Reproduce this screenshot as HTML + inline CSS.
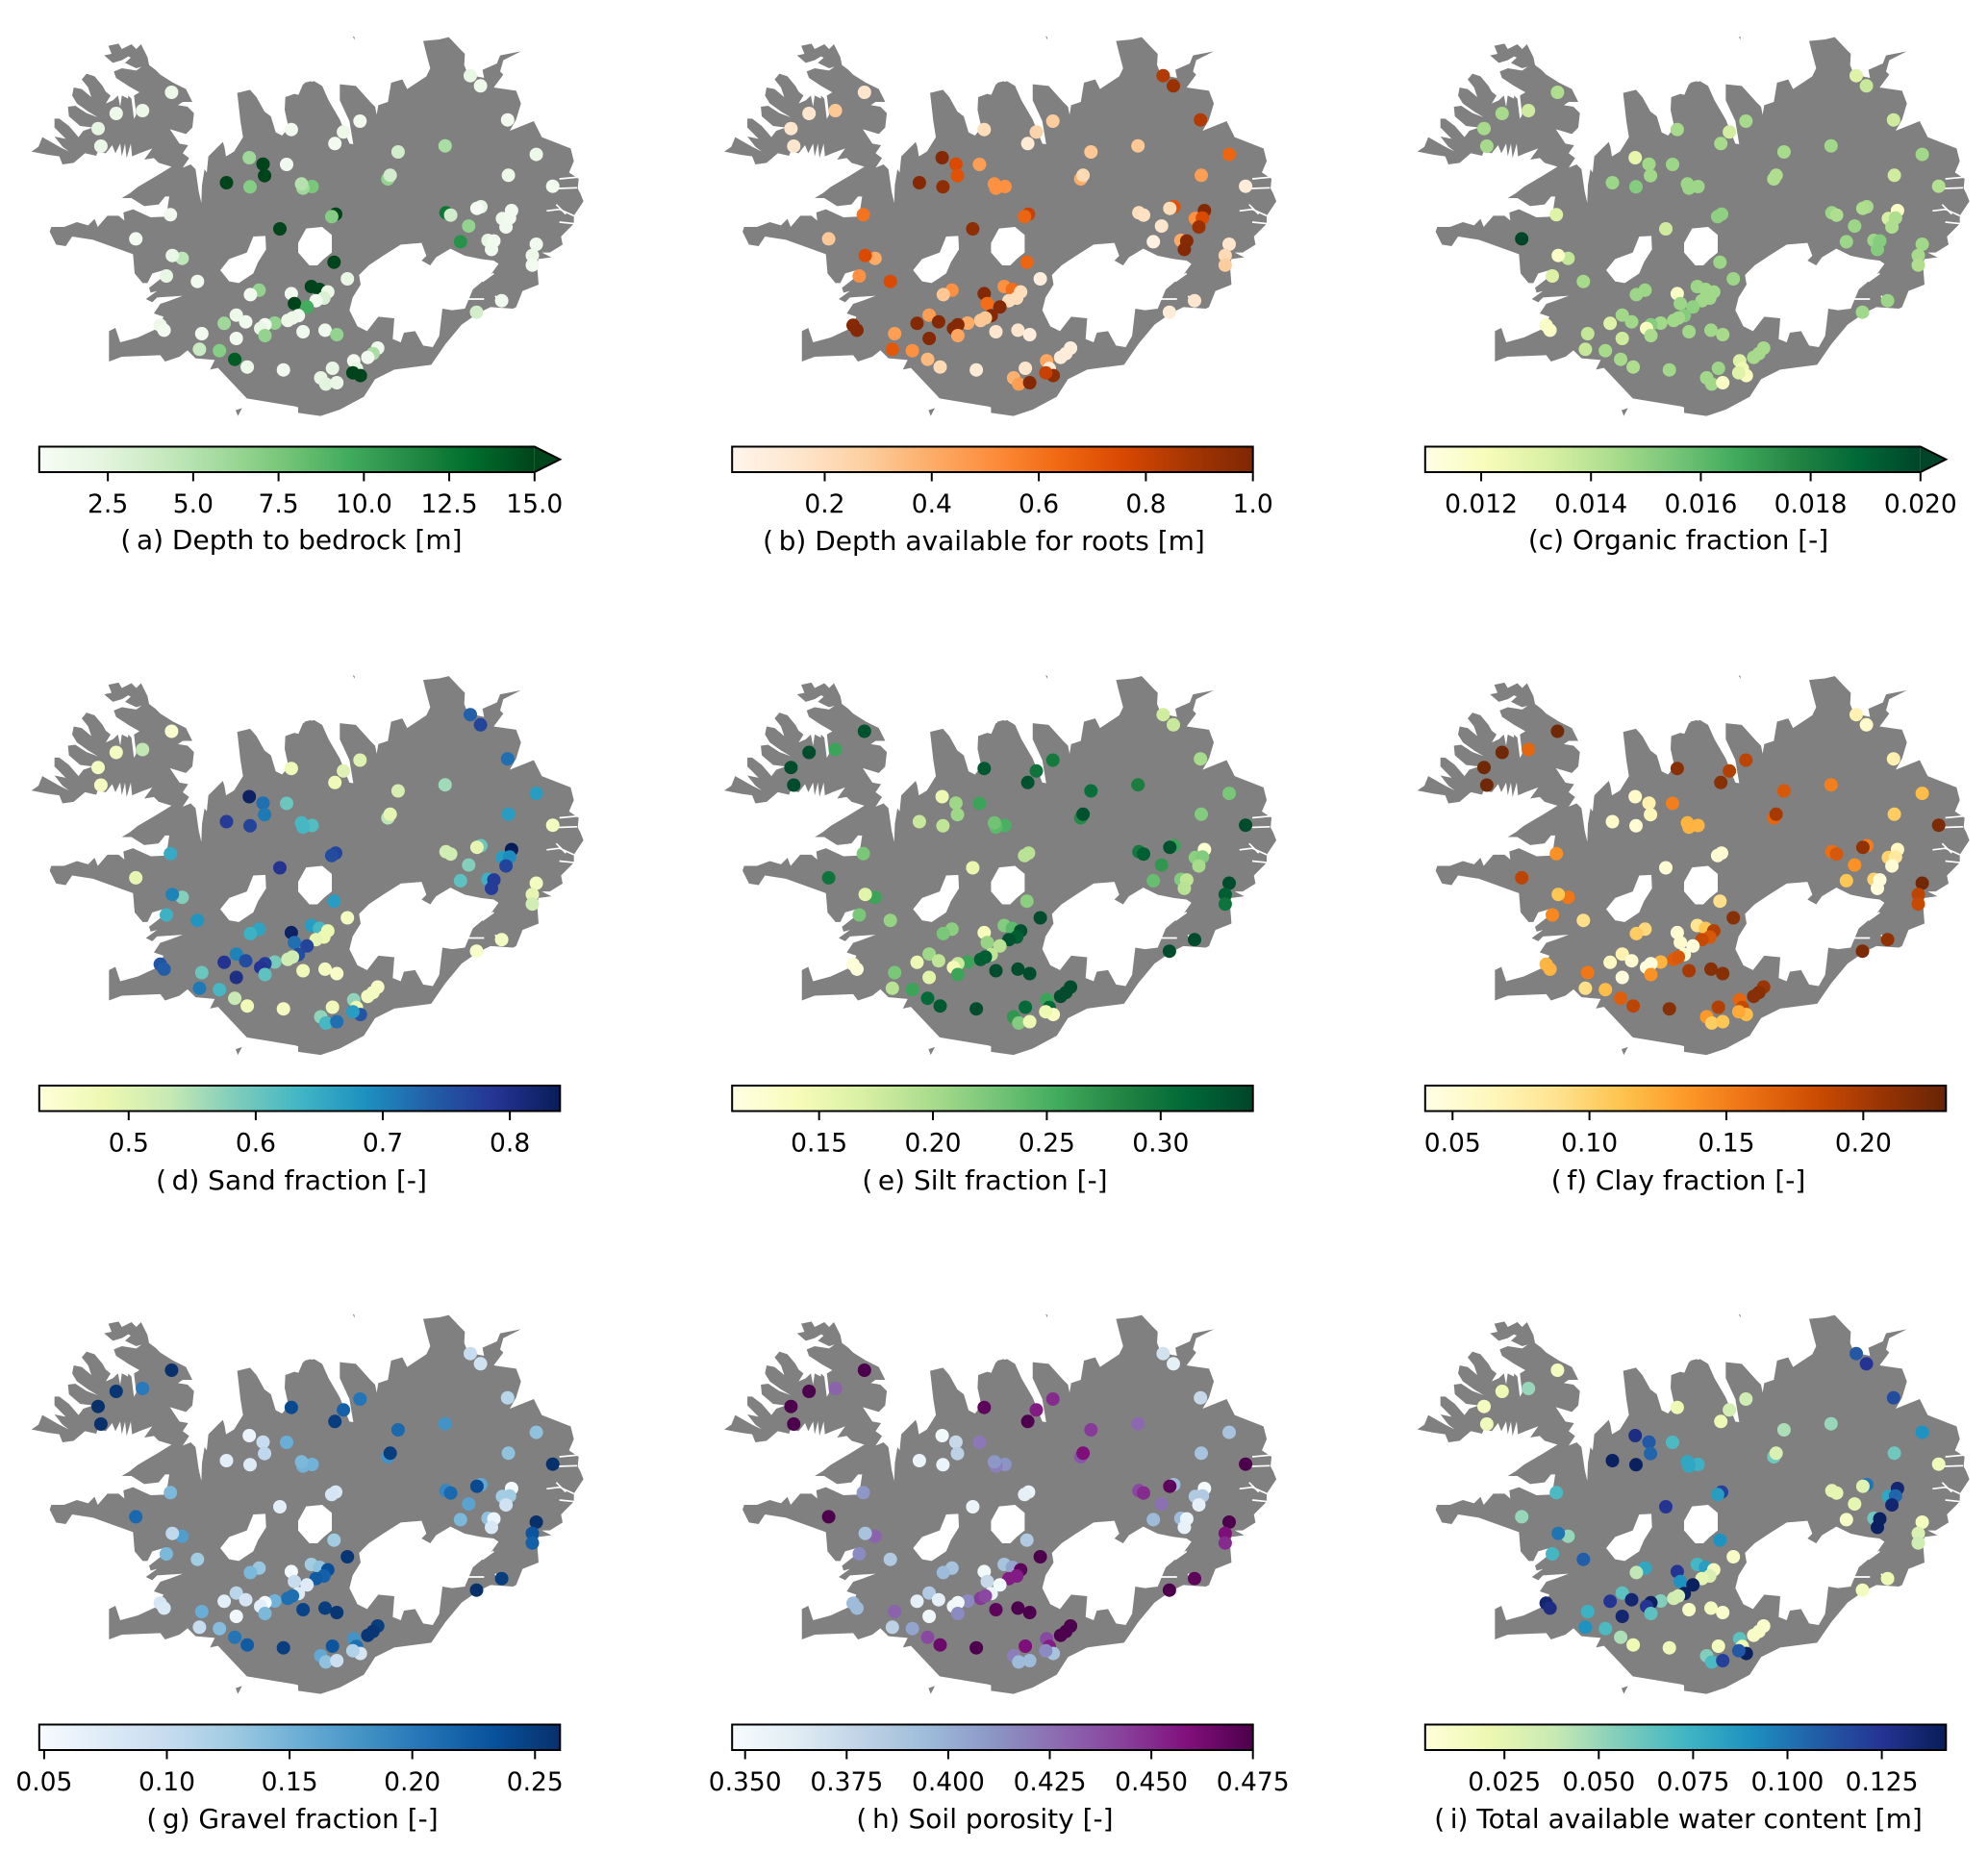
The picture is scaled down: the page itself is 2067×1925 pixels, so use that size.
<!DOCTYPE html>
<html lang="en">
<head>
<meta charset="utf-8">
<title>Iceland soil properties maps</title>
<style>
html,body{margin:0;padding:0;background:#fff}
svg{display:block}
text{font-family:"DejaVu Sans","Liberation Sans",sans-serif;font-size:26.5px;fill:#000}
text.cbar-title{text-anchor:middle;font-size:28px}
</style>
</head>
<body>
<svg id="figure" xmlns="http://www.w3.org/2000/svg" width="2067" height="1925" viewBox="0 0 2067 1925">
<defs>
<g id="iceland">
<g transform="translate(30,36) scale(0.33333)">
<path fill="#808080" d="M900,168 L880,145 860,150 850,190 828,185 800,195 798,235 810,290 790,315 770,305 755,255 735,240 710,195 690,172 650,182 660,270 668,320 640,365 615,380 610,350 605,335 560,380 555,430 548,420 540,470 538,525 530,490 520,420 505,405 480,415 500,385 480,370 497,345 470,340 440,295 490,310 510,290 515,245 495,225 465,220 480,210 510,210 490,170 450,150 410,125 395,110 375,95 370,70 350,30 335,45 320,30 290,45 280,28 248,35 258,60 235,65 262,88 290,80 310,68 318,72 300,88 335,105 352,100 335,112 290,105 265,115 272,135 310,160 345,180 328,190 335,250 318,280 328,265 320,200 310,190 305,262 310,200 290,190 285,225 278,190 262,205 240,215 255,190 240,178 230,160 205,130 180,122 165,140 185,165 195,195 165,170 140,165 135,190 150,215 185,240 215,258 180,245 145,222 122,225 125,255 160,285 200,290 170,300 155,320 125,285 95,262 80,262 80,290 115,325 80,318 105,350 125,365 95,350 60,330 42,320 30,350 8,365 60,375 95,380 105,405 140,400 175,370 210,378 215,365 240,370 260,345 270,370 285,340 290,380 300,340 305,385 318,340 322,380 345,370 385,355 360,390 390,385 405,400 445,412 400,440 340,475 315,495 290,510 320,510 360,535 405,530 425,505 438,505 432,545 422,568 380,570 325,545 295,555 298,580 280,565 245,565 215,600 205,575 185,595 150,585 110,600 70,600 65,615 85,655 115,660 135,630 200,640 325,685 330,745 355,775 370,775 385,745 420,735 420,755 375,790 380,805 400,800 365,825 385,835 400,820 480,815 440,830 410,840 390,870 420,880 405,915 340,945 285,960 270,915 250,925 250,1020 290,1005 410,1000 425,1020 470,1005 495,985 520,1010 580,1015 565,1045 590,1040 680,1135 830,1160 900,1180 Z M645,1172 L665,1165 652,1190 Z"/>
</g>
<g transform="translate(310,36) scale(0.33333)">
<path fill="#808080" d="M0,190 L15,155 50,145 75,160 95,205 130,265 160,340 172,342 160,270 130,205 130,155 180,160 225,210 240,225 245,250 250,220 280,210 290,150 325,140 340,170 400,130 412,105 400,60 390,20 440,15 470,8 505,45 520,60 518,95 530,125 580,135 575,110 620,90 630,65 695,52 640,80 630,115 640,125 610,165 680,175 695,215 680,265 660,300 735,270 760,320 850,355 860,395 845,430 875,450 872,480 880,495 890,520 860,565 860,590 820,630 825,655 785,680 760,680 790,695 750,700 745,715 750,780 700,800 680,850 670,855 600,850 560,870 510,905 460,965 415,1030 300,1045 240,1075 205,1130 130,1170 70,1190 0,1180 Z M170,5 L176,8 176,16 Z"/>
</g>
<g transform="translate(30,36) scale(0.33333)">
<path fill="#ffffff" d="M597,735 625,700 680,680 700,630 738,628 740,670 715,710 700,745 655,775 625,770 Z"/>
</g>
<g transform="translate(310,36) scale(0.33333)">
<path fill="#ffffff" d="M0,650 25,605 75,600 105,625 105,680 80,700 60,720 35,720 0,680 Z"/>
<path fill="#ffffff" d="M190,750 220,720 265,690 320,655 385,650 400,690 385,705 412,720 430,695 475,668 520,690 570,700 610,705 625,715 600,750 575,770 545,795 520,855 480,860 450,855 440,940 420,975 390,970 365,925 330,930 320,960 295,950 300,885 250,880 215,925 185,910 160,860 170,820 195,780 Z"/>
<path fill="none" stroke="#ffffff" stroke-width="5" stroke-linejoin="round" d="M775,550 815,545 860,565 M805,530 835,560 M815,585 865,590 M815,450 870,445 M810,480 870,478 M530,825 580,825 M615,815 635,850 M575,770 610,745"/>
</g>
</g>
</defs>
<rect width="2067" height="1925" fill="#ffffff"/>
<g id="panel-a"><text class="cbar-title" x="303" y="571">(&#8201;a) Depth to bedrock [m]</text></g>
<g id="panel-b"><text class="cbar-title" x="1023" y="572">(&#8201;b) Depth available for roots [m]</text></g>
<g id="panel-c"><text class="cbar-title" x="1745" y="571">(c) Organic fraction [-]</text></g>
<g id="panel-d"><text class="cbar-title" x="303" y="1237">(&#8201;d) Sand fraction [-]</text></g>
<g id="panel-e"><text class="cbar-title" x="1024" y="1237">(&#8201;e) Silt fraction [-]</text></g>
<g id="panel-f"><text class="cbar-title" x="1745" y="1237">(&#8201;f) Clay fraction [-]</text></g>
<g id="panel-g"><text class="cbar-title" x="304" y="1901">(&#8201;g) Gravel fraction [-]</text></g>
<g id="panel-h"><text class="cbar-title" x="1024" y="1901">(&#8201;h) Soil porosity [-]</text></g>
<g id="panel-i"><text class="cbar-title" x="1745" y="1901">(&#8201;i) Total available water content [m]</text></g>
</svg>
<script>
const stationLon = [-21.766,-22.868,-22.344,-23.227,-23.172,-19.383,-18.016,-18.344,-18.516,-17.258,-16.321,-15.821,-15.618,-15.078,-14.508,-15.063,-14.180,-20.219,-19.946,-19.914,-19.477,-20.672,-20.203,-18.969,-19.149,-19.180,-17.461,-17.414,-18.500,-18.578,-19.610,-16.305,-16.211,-15.610,-15.688,-15.000,-15.180,-15.039,-15.110,-15.852,-16.016,-15.469,-15.352,-15.399,-14.508,-14.586,-14.586,-15.196,-15.696,-21.789,-22.477,-21.555,-21.750,-21.868,-21.250,-18.532,-18.266,-20.024,-20.196,-19.383,-18.985,-18.821,-18.657,-19.321,-18.735,-18.891,-19.071,-19.242,-19.453,-19.360,-19.711,-20.477,-20.289,-20.719,-19.907,-19.992,-19.907,-19.149,-18.711,-18.477,-20.477,-21.164,-21.992,-21.914,-21.211,-20.813,-20.508,-20.258,-19.539,-18.563,-18.141,-18.086,-18.008,-18.157,-18.797,-18.696,-18.477,-17.664,-17.758,-17.860];
const stationLat = [66.080,65.904,65.928,65.778,65.631,65.770,65.840,65.749,65.653,65.583,65.634,66.219,66.134,65.850,65.562,65.388,65.297,65.535,65.481,65.385,65.479,65.326,65.292,65.294,65.281,65.316,65.358,65.388,65.064,65.043,64.941,65.075,65.056,65.126,65.112,65.094,65.027,65.032,64.957,64.965,64.834,64.845,64.840,64.770,64.813,64.719,64.639,64.342,64.246,65.059,64.858,64.695,64.719,64.548,64.503,64.663,64.524,64.430,64.393,64.401,64.460,64.436,64.415,64.318,64.364,64.342,64.289,64.217,64.177,64.198,64.155,64.222,64.166,64.153,64.142,64.110,64.051,64.083,64.096,64.059,64.027,64.067,64.137,64.096,63.936,63.925,63.853,63.789,63.765,63.778,63.840,63.776,63.717,63.741,63.698,63.647,63.658,63.947,63.901,63.869];

const depthToBedrock = [1.5,1.5,1.5,2.2,1.8,1,1,1.5,1,3.5,5.5,2,1.5,1,1.5,1.5,1,6,15,15,1.2,15,7,7.5,6,5,6.5,3.5,15,7,15,12.5,3.5,2,.7,1,1.5,1,1.2,6.5,11,2,1,1.2,1.2,1.5,1,1.2,3.5,1,.8,4.5,1.8,2,1,15,2,6.5,1,1,15,15,1.5,15,3,1,9.5,1.2,1.5,1.5,6.5,1.5,1.2,6,1,2,6.5,1.2,1.2,6.5,1,1,1.5,1,4,7,14,1.5,1,2,1,2,15,15,2,2.5,1.8,1.2,5.5,1.2];
const rootDepth = [.15,.15,.3,.15,.15,.2,.28,.25,.12,.3,.3,.85,.92,.85,.65,.45,.1,.98,.75,.72,.45,.98,.95,.5,.5,.5,.4,.22,.8,.65,.95,.2,.18,.72,.2,.98,.5,.75,.92,.15,.07,.4,.98,.98,.15,.22,.28,.15,.1,.6,.3,.4,.75,.5,.75,.65,.08,.5,.3,.98,.5,.62,.2,.62,.2,.2,.98,.98,.3,.3,.4,.45,.98,.98,.98,.98,.42,.15,.15,.08,.98,.45,.98,.98,.7,.5,.35,.22,.12,.15,.42,.12,.95,.8,.38,.45,.98,.08,.1,.1];
const organicFraction = [.0143,.0145,.0135,.0145,.0145,.0145,.0145,.0134,.0145,.0145,.0146,.013,.0137,.0135,.0146,.0135,.0142,.0127,.0146,.0146,.0147,.0147,.0152,.0147,.0147,.0147,.0143,.0143,.015,.015,.0135,.0147,.0143,.0145,.0143,.0118,.0133,.0143,.0143,.0147,.0147,.0147,.0152,.0152,.0146,.0145,.0143,.0147,.0146,.013,.020,.0138,.0118,.0131,.0145,.0147,.0147,.0147,.0147,.0118,.0147,.0146,.0146,.0147,.0146,.0146,.015,.0152,.0146,.0146,.0146,.0146,.0146,.013,.0152,.012,.0144,.0146,.0146,.0145,.0135,.0138,.0118,.0118,.0137,.0145,.0145,.0143,.0146,.0147,.013,.0125,.012,.013,.0146,.0146,.0118,.0145,.0145,.0145];
const sandFraction = [.44,.46,.535,.46,.46,.47,.5,.5,.47,.51,.56,.735,.77,.72,.67,.67,.46,.83,.72,.71,.6,.78,.77,.62,.63,.63,.54,.49,.77,.76,.79,.52,.52,.6,.49,.84,.67,.69,.77,.58,.61,.64,.78,.78,.46,.49,.52,.46,.45,.65,.49,.58,.7,.64,.68,.67,.46,.66,.64,.83,.67,.63,.48,.72,.48,.49,.77,.76,.52,.52,.59,.7,.76,.79,.78,.79,.61,.47,.46,.45,.8,.6,.75,.74,.71,.63,.53,.47,.46,.47,.57,.48,.75,.67,.57,.63,.72,.45,.46,.46];
const siltFraction = [.33,.335,.26,.335,.335,.325,.295,.3,.33,.305,.29,.175,.18,.2,.225,.22,.335,.15,.205,.205,.26,.18,.185,.25,.24,.23,.28,.33,.19,.19,.155,.295,.32,.26,.33,.125,.215,.22,.2,.27,.235,.22,.185,.19,.335,.32,.3,.335,.335,.225,.3,.26,.16,.225,.21,.215,.335,.215,.225,.14,.22,.24,.33,.21,.32,.33,.19,.185,.32,.32,.26,.205,.185,.15,.18,.145,.26,.335,.335,.335,.16,.225,.12,.12,.19,.26,.31,.325,.335,.31,.26,.31,.135,.15,.27,.22,.15,.335,.335,.335];
const clayFraction = [.225,.225,.165,.225,.225,.215,.19,.195,.215,.175,.15,.07,.055,.07,.115,.105,.22,.055,.07,.065,.15,.055,.05,.12,.12,.12,.165,.2,.05,.05,.05,.16,.175,.15,.21,.06,.1,.08,.05,.14,.11,.1,.045,.045,.225,.19,.185,.21,.22,.14,.19,.155,.11,.145,.09,.09,.215,.095,.105,.05,.085,.11,.195,.055,.175,.185,.045,.05,.17,.175,.12,.07,.05,.06,.045,.045,.14,.2,.215,.215,.045,.155,.12,.12,.09,.115,.17,.19,.215,.195,.165,.185,.115,.125,.135,.105,.11,.205,.215,.215];
const gravelFraction = [.26,.255,.2,.26,.26,.24,.205,.22,.25,.215,.18,.1,.09,.11,.135,.135,.26,.06,.1,.105,.155,.07,.075,.15,.15,.145,.18,.25,.08,.085,.07,.19,.215,.16,.24,.05,.125,.125,.09,.165,.145,.135,.06,.08,.26,.23,.22,.25,.26,.145,.215,.17,.105,.145,.125,.125,.255,.13,.145,.05,.125,.135,.235,.1,.22,.225,.075,.075,.21,.21,.15,.11,.085,.07,.05,.07,.145,.245,.25,.255,.055,.155,.085,.08,.1,.14,.205,.225,.25,.23,.18,.21,.085,.115,.16,.135,.095,.25,.255,.255];
const soilPorosity = [.475,.475,.43,.475,.475,.47,.45,.455,.475,.445,.428,.37,.36,.375,.39,.39,.475,.35,.375,.38,.422,.355,.355,.412,.42,.41,.435,.46,.355,.36,.355,.44,.45,.395,.47,.348,.385,.385,.36,.425,.395,.395,.355,.358,.475,.46,.45,.47,.475,.41,.475,.43,.39,.415,.385,.385,.475,.39,.395,.35,.39,.405,.47,.375,.455,.455,.35,.355,.445,.44,.415,.385,.36,.36,.35,.352,.415,.47,.475,.475,.352,.43,.395,.395,.38,.405,.44,.465,.475,.46,.44,.455,.39,.415,.42,.395,.395,.475,.475,.475];
const waterContent = [.015,.02,.05,.015,.018,.02,.035,.033,.02,.045,.05,.11,.125,.115,.09,.06,.018,.13,.11,.105,.07,.14,.14,.075,.08,.08,.06,.03,.12,.085,.125,.025,.025,.1,.027,.135,.08,.105,.135,.025,.012,.06,.14,.14,.015,.03,.035,.02,.015,.07,.05,.05,.1,.072,.108,.09,.012,.08,.04,.125,.072,.085,.015,.09,.03,.025,.14,.14,.035,.033,.055,.065,.135,.125,.14,.125,.065,.012,.015,.01,.135,.075,.135,.13,.09,.07,.045,.02,.018,.015,.065,.02,.14,.11,.055,.07,.12,.01,.012,.012];

const ticksA = [2.5,5,7.5,10,12.5,15];
const tickLabelsA = ['2.5','5.0','7.5','10.0','12.5','15.0'];
const ticksB = [.2,.4,.6,.8,1];
const tickLabelsB = ['0.2','0.4','0.6','0.8','1.0'];
const ticksC = [.012,.014,.016,.018,.02];
const tickLabelsC = ['0.012','0.014','0.016','0.018','0.020'];
const ticksD = [.5,.6,.7,.8];
const tickLabelsD = ['0.5','0.6','0.7','0.8'];
const ticksE = [.15,.2,.25,.3];
const tickLabelsE = ['0.15','0.20','0.25','0.30'];
const ticksF = [.05,.1,.15,.2];
const tickLabelsF = ['0.05','0.10','0.15','0.20'];
const ticksG = [.05,.1,.15,.2,.25];
const tickLabelsG = ['0.05','0.10','0.15','0.20','0.25'];
const ticksH = [.35,.375,.4,.425,.45,.475];
const tickLabelsH = ['0.350','0.375','0.400','0.425','0.450','0.475'];
const ticksI = [.025,.05,.075,.1,.125];
const tickLabelsI = ['0.025','0.050','0.075','0.100','0.125'];

const COLORMAPS = {
  Greens:['#f7fcf5','#e5f5e0','#c7e9c0','#a1d99b','#74c476','#41ab5d','#238b45','#006d2c','#00441b'],
  Oranges:['#fff5eb','#fee6ce','#fdd0a2','#fdae6b','#fd8d3c','#f16913','#d94801','#a63603','#7f2704'],
  YlGn:['#ffffe5','#f7fcb9','#d9f0a3','#addd8e','#78c679','#41ab5d','#238443','#006837','#004529'],
  YlGnBu:['#ffffd9','#edf8b1','#c7e9b4','#7fcdbb','#41b6c4','#1d91c0','#225ea8','#253494','#081d58'],
  YlOrBr:['#ffffe5','#fff7bc','#fee391','#fec44f','#fe9929','#ec7014','#cc4c02','#993404','#662506'],
  Blues:['#f7fbff','#deebf7','#c6dbef','#9ecae1','#6baed6','#4292c6','#2171b5','#08519c','#08306b'],
  BuPu:['#f7fcfd','#e0ecf4','#bfd3e6','#9ebcda','#8c96c6','#8c6bb1','#88419d','#810f7c','#4d004b']
};

const PANELS = [
  {key:'a',col:0,row:0,values:depthToBedrock,vmin:.49,vmax:15,cmap:'Greens',ticks:ticksA,labels:tickLabelsA,extend:true},
  {key:'b',col:1,row:0,values:rootDepth,vmin:.027,vmax:1,cmap:'Oranges',ticks:ticksB,labels:tickLabelsB,extend:false},
  {key:'c',col:2,row:0,values:organicFraction,vmin:.01098,vmax:.02,cmap:'YlGn',ticks:ticksC,labels:tickLabelsC,extend:true},
  {key:'d',col:0,row:1,values:sandFraction,vmin:.4296,vmax:.8395,cmap:'YlGnBu',ticks:ticksD,labels:tickLabelsD,extend:false},
  {key:'e',col:1,row:1,values:siltFraction,vmin:.1118,vmax:.3405,cmap:'YlGn',ticks:ticksE,labels:tickLabelsE,extend:false},
  {key:'f',col:2,row:1,values:clayFraction,vmin:.04,vmax:.2302,cmap:'YlOrBr',ticks:ticksF,labels:tickLabelsF,extend:false},
  {key:'g',col:0,row:2,values:gravelFraction,vmin:.048,vmax:.2602,cmap:'Blues',ticks:ticksG,labels:tickLabelsG,extend:false},
  {key:'h',col:1,row:2,values:soilPorosity,vmin:.3468,vmax:.475,cmap:'BuPu',ticks:ticksH,labels:tickLabelsH,extend:false},
  {key:'i',col:2,row:2,values:waterContent,vmin:.004,vmax:.142,cmap:'YlGnBu',ticks:ticksI,labels:tickLabelsI,extend:false}
];

const NS = 'http://www.w3.org/2000/svg';
const COL_X = [0,720.4,1441];
const ROW_Y = [0,664.5,1329];
const BAR_W = 541.5, BAR_X0 = 40.8, BAR_TOP = 464.5, BAR_H = 26.5, EXT_W = 26.5;

function el(tag, attrs, parent){
  const n = document.createElementNS(NS, tag);
  for (const k in attrs) n.setAttribute(k, attrs[k]);
  parent.appendChild(n);
  return n;
}
function lonToX(lon, dx){ return dx + (lon + 25.18) * 52.245; }
function latToY(lat, dy){ return dy + 20 + (66.69 - lat) * 124.67; }
function hexToRgb(h){ return [1,3,5].map(i => parseInt(h.substr(i,2),16)); }
function colorAt(cmap, t){
  const s = COLORMAPS[cmap];
  t = Math.max(0, Math.min(1, t)) * (s.length - 1);
  const i = Math.min(Math.floor(t), s.length - 2), f = t - i;
  const a = hexToRgb(s[i]), b = hexToRgb(s[i+1]);
  return 'rgb(' + a.map((v,j) => Math.round(v + (b[j]-v)*f)).join(',') + ')';
}

const defs = document.querySelector('defs');
PANELS.forEach(p => {
  const g = document.getElementById('panel-' + p.key);
  const title = g.querySelector('text');
  const dx = COL_X[p.col], dy = ROW_Y[p.row];

  const map = el('use', {href:'#iceland', transform:'translate(' + dx + ',' + dy + ')'}, g);
  
  
  g.insertBefore(map, title);

  const stations = el('g', {}, g);
  
  
  g.insertBefore(stations, title);
  p.values.forEach((v, i) => {
    const c = el('circle', {
      cx: lonToX(stationLon[i], dx).toFixed(1),
      cy: latToY(stationLat[i], dy).toFixed(1),
      r: 7,
      fill: colorAt(p.cmap, (v - p.vmin) / (p.vmax - p.vmin))
    }, stations);
    
    
  });

  const barX = BAR_X0 + dx, barY = BAR_TOP + dy;
  const bodyW = p.extend ? BAR_W - EXT_W : BAR_W;
  const grad = el('linearGradient', {id:'grad-' + p.key, x1:0, x2:1, y1:0, y2:0}, defs);
  COLORMAPS[p.cmap].forEach((c, i, arr) => {
    el('stop', {offset: i / (arr.length - 1), 'stop-color': c}, grad);
  });
  const scaleX = v => barX + (v - p.vmin) / (p.vmax - p.vmin) * bodyW;

  const body = el('rect', {x:barX, y:barY, width:bodyW, height:BAR_H, fill:'url(#grad-' + p.key + ')'}, g);
  
  
  g.insertBefore(body, title);

  let outlinePts;
  if (p.extend) {
    const last = COLORMAPS[p.cmap][8];
    const pts = [[barX+bodyW,barY],[barX+BAR_W,barY+BAR_H/2],[barX+bodyW,barY+BAR_H]];
    const tri = el('polygon', {points: pts.map(q => q.join(',')).join(' '), fill:last}, g);
    
    
    g.insertBefore(tri, title);
    outlinePts = [[barX,barY],pts[0],pts[1],pts[2],[barX,barY+BAR_H]];
  } else {
    outlinePts = [[barX,barY],[barX+bodyW,barY],[barX+bodyW,barY+BAR_H],[barX,barY+BAR_H]];
  }
  const outline = el('polygon', {points: outlinePts.map(q => q.join(',')).join(' '), fill:'none', stroke:'#000', 'stroke-width':2}, g);
  
  
  g.insertBefore(outline, title);

  p.ticks.forEach((t, i) => {
    const x = scaleX(t);
    const tick = el('line', {x1:x, x2:x, y1:barY+BAR_H, y2:barY+BAR_H+9.5, stroke:'#000', 'stroke-width':2}, g);
    
    
    g.insertBefore(tick, title);
    const lab = el('text', {x:x, y:533 + dy, 'text-anchor':'middle'}, g);
    lab.textContent = p.labels[i];
    
    
    g.insertBefore(lab, title);
  });
});
</script>
</body>
</html>
